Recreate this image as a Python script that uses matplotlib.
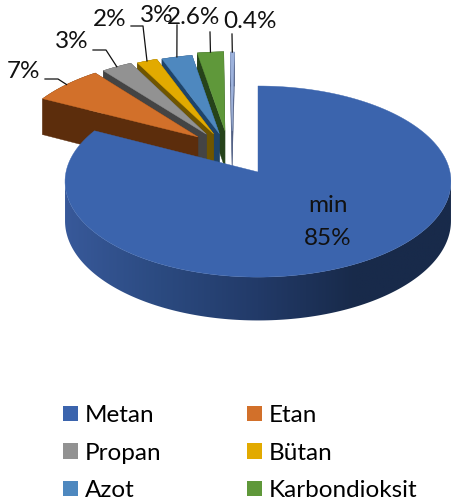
import numpy as np
import matplotlib
matplotlib.use("Agg")
import matplotlib.pyplot as plt
from matplotlib.patches import Patch, Polygon
from matplotlib.colors import LinearSegmentedColormap

# data
categories = ["Metan", "Etan", "Propan", "Bütan", "Azot", "Karbondioksit"]
values = [85, 7, 3, 2, 3, 2.6, 0.4]
value_labels = ["85%", "7%", "3%", "2%", "3%", "2.6%", "0.4%"]

# style
top_colors = ["#3b64ad", "#d2702a", "#929292", "#e2aa00", "#4e88bf", "#5f983a", "#9db2dc"]
side_colors = ["#2b4a80", "#5c2d0c", "#444444", "#6f5500", "#1f4469", "#26431a", "#4a5a80"]
explode_u = [0, -0.325, -0.28, -0.241, -0.21, -0.18, -0.141]
explode_v = [0, 0.385, 0.416, 0.42, 0.423, 0.456, 0.452]
label_xy = [None, (24, 72), (72, 42), (110, 19), (157, 16), (194, 18), (250, 21)]

CX, CY, RX, RY, P, DEPTH = 258, 172, 192, 94.6, 0.1, 39

plt.rcParams["font.family"] = ["Lato", "DejaVu Sans"]
fig = plt.figure(figsize=(4.52, 5.04), dpi=100)
ax = fig.add_axes([0, 0, 1, 1])
ax.axis("off")


def project(u, v, z=0.0):
    d = 1 + P * v
    return CX + RX * u / d, CY - RY * v / d + DEPTH * z / d


def rim(a0, a1, ou, ov, z=0.0, n=160):
    t = np.radians(np.linspace(a0, a1, n))
    return project(np.cos(t) + ou, np.sin(t) + ov, z)


# clockwise from twelve o'clock
fractions = np.array(values, dtype=float) / sum(values) * 360
ends = 90 - np.cumsum(fractions)
starts = ends + fractions

side_cmap = LinearSegmentedColormap.from_list("side", ["#38599a", "#2b4a80", "#223a68", "#182a4a", "#182a4a"])
silhouette = np.degrees(np.arcsin(P))

# paint back slices first, Metan last
for i in range(len(values) - 1, -1, -1):
    a0, a1 = starts[i], ends[i]
    ou, ov = explode_u[i], explode_v[i]
    xt, yt = rim(a0, a1, ou, ov)
    xb, yb = rim(a0, a1, ou, ov, 1.0)
    ax0, ay0 = project(ou, ov)
    bx0, by0 = project(ou, ov, 1.0)
    if i == 0:
        # only the near-facing part of the rim is visible
        xs0, ys0 = rim(180 + silhouette, 360 - silhouette, 0, 0)
        xs1, ys1 = rim(180 + silhouette, 360 - silhouette, 0, 0, 1.0)
        band = Polygon(np.c_[np.r_[xs0, xs1[::-1]], np.r_[ys0, ys1[::-1]]], closed=True,
                       transform=ax.transData, facecolor="none", edgecolor="none")
        ax.add_patch(band)
        im = ax.imshow(np.linspace(0, 1, 256).reshape(1, -1), cmap=side_cmap, aspect="auto",
                       extent=(64, 452, 330, 100), zorder=1)
        im.set_clip_path(band)
    else:
        ax.fill(np.r_[xt, xb[::-1]], np.r_[yt, yb[::-1]], color=side_colors[i], lw=0.3)
        ax.fill([ax0, xt[0], xb[0], bx0], [ay0, yt[0], yb[0], by0], color=side_colors[i], lw=0.3)
        ax.fill([ax0, xt[-1], xb[-1], bx0], [ay0, yt[-1], yb[-1], by0], color=side_colors[i], lw=0.3)
    ax.fill(np.r_[ax0, xt], np.r_[ay0, yt], color=top_colors[i], lw=0.3, zorder=1)

FS = 17.5
for i in range(1, len(values)):
    lx, ly = label_xy[i]
    ax.text(lx, ly, value_labels[i], ha="center", va="center", fontsize=FS, color="#111111", zorder=6)

leaders = {1: [(45, 79), (58, 79)], 2: [(93, 50), (106, 50)], 3: [(131, 26), (143, 26)],
           4: [(177, 25)], 5: [(210, 32)], 6: [(232, 34)]}
for i, pts in leaders.items():
    mid = (starts[i] + ends[i]) / 2
    mx, my = rim(mid, mid, explode_u[i], explode_v[i], n=1)
    xs = [p[0] for p in pts] + [float(mx[0])]
    ys = [p[1] for p in pts] + [float(my[0])]
    ax.plot(xs, ys, color="#111111", lw=0.9, zorder=5)

ax.text(328, 222, "min\n" + value_labels[0], ha="center", va="center", fontsize=FS,
        color="#111111", linespacing=1.65, zorder=6)

handles = [Patch(facecolor=top_colors[i], edgecolor="none", label=categories[i])
           for i in range(len(categories))]
order = [0, 2, 4, 1, 3, 5]
ax.legend([handles[j] for j in order], [categories[j] for j in order], ncol=2,
          loc="upper left", bbox_to_anchor=(63 / 452, 1 - 405 / 504), frameon=False,
          fontsize=FS, handlelength=0.62, handleheight=0.62, handletextpad=0.29,
          labelspacing=0.68, columnspacing=3.5, borderpad=0, borderaxespad=0)

ax.set_xlim(0, 452)
ax.set_ylim(504, 0)
fig.savefig("out.png", dpi=100)
